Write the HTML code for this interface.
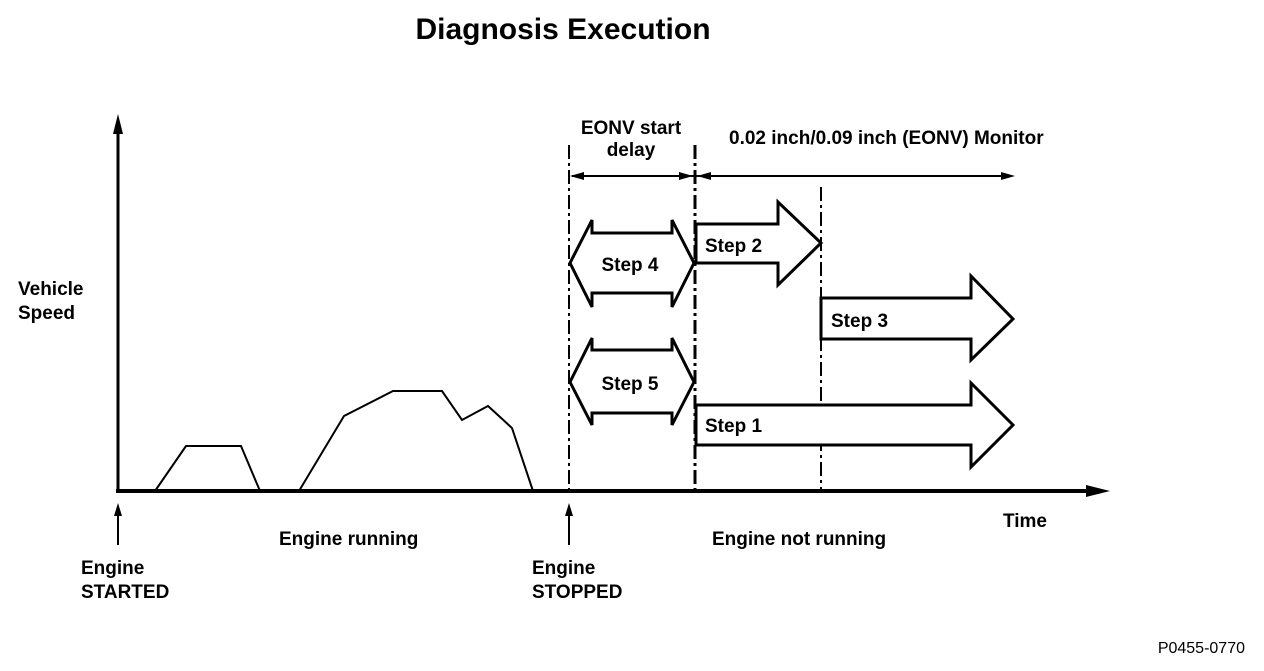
<!DOCTYPE html>
<html><head><style>
body{margin:0;background:#fff}
svg text{font-family:"Liberation Sans",Arial,sans-serif;font-weight:bold;fill:#000}
</style></head><body>
<svg width="1264" height="666" viewBox="0 0 1264 666" xmlns="http://www.w3.org/2000/svg">
<text x="563" y="39" font-size="30" text-anchor="middle">Diagnosis Execution</text>
<g stroke="#000" fill="none">
<line x1="118" y1="491" x2="118" y2="130" stroke-width="3"/>
<polygon points="118,114 113,134 123,134" fill="#000" stroke="none"/>
<line x1="116" y1="491" x2="1092" y2="491" stroke-width="4"/>
<polygon points="1110,491 1086,485 1086,497" fill="#000" stroke="none"/>
<polyline stroke-width="2" points="155,491 186,446 241,446 260,491"/>
<polyline stroke-width="2" points="299,491 344,416 393,391 442,391 462,420 488,406 512,428 533,491"/>
<line x1="569" y1="145" x2="569" y2="491" stroke-width="2" stroke-dasharray="14,4,3,4"/>
<line x1="695" y1="145" x2="695" y2="491" stroke-width="3" stroke-dasharray="14,4,3,4"/>
<line x1="821" y1="187" x2="821" y2="491" stroke-width="2" stroke-dasharray="14,4,3,4"/>
<line x1="572" y1="176" x2="1012" y2="176" stroke-width="2"/>
<polygon points="570,176 584,172 584,180" fill="#000" stroke="none"/>
<polygon points="693,176 679,172 679,180" fill="#000" stroke="none"/>
<polygon points="697,176 711,172 711,180" fill="#000" stroke="none"/>
<polygon points="1015,176 1001,172 1001,180" fill="#000" stroke="none"/>
<polygon stroke-width="3" fill="#fff" points="570,263 592,220 592,233 672,233 672,220 694,263 672,307 672,293 592,293 592,307"/>
<polygon stroke-width="3" fill="#fff" points="570,382 592,338 592,350 672,350 672,338 694,382 672,425 672,413 592,413 592,425"/>
<polygon stroke-width="3" fill="#fff" points="696,224 778,224 778,202 821,243 778,285 778,263 696,263"/>
<polygon stroke-width="3" fill="#fff" points="821,298 971,298 971,276 1013,319 971,360 971,339 821,339"/>
<polygon stroke-width="3" fill="#fff" points="696,405 971,405 971,383 1013,425 971,467 971,445 696,445"/>
<line x1="118" y1="545" x2="118" y2="512" stroke-width="2"/>
<polygon points="118,503 114,516 122,516" fill="#000" stroke="none"/>
<line x1="569" y1="545" x2="569" y2="512" stroke-width="2"/>
<polygon points="569,503 565,516 573,516" fill="#000" stroke="none"/>
</g>
<g font-size="19">
<text x="630" y="264" text-anchor="middle" dy="7">Step 4</text>
<text x="630" y="390" text-anchor="middle">Step 5</text>
<text x="705" y="252">Step 2</text>
<text x="831" y="327">Step 3</text>
<text x="705" y="432">Step 1</text>
<text x="631" y="134" text-anchor="middle">EONV start</text>
<text x="631" y="156" text-anchor="middle">delay</text>
<text x="729" y="144">0.02 inch/0.09 inch (EONV) Monitor</text>
<text x="18" y="295">Vehicle</text>
<text x="18" y="319">Speed</text>
<text x="1003" y="527">Time</text>
<text x="279" y="545">Engine running</text>
<text x="712" y="545">Engine not running</text>
<text x="81" y="574">Engine</text>
<text x="81" y="598">STARTED</text>
<text x="532" y="574">Engine</text>
<text x="532" y="598">STOPPED</text>
</g>
<text x="1245" y="653" font-size="16" text-anchor="end" style="font-weight:normal">P0455-0770</text>
</svg>
</body></html>
